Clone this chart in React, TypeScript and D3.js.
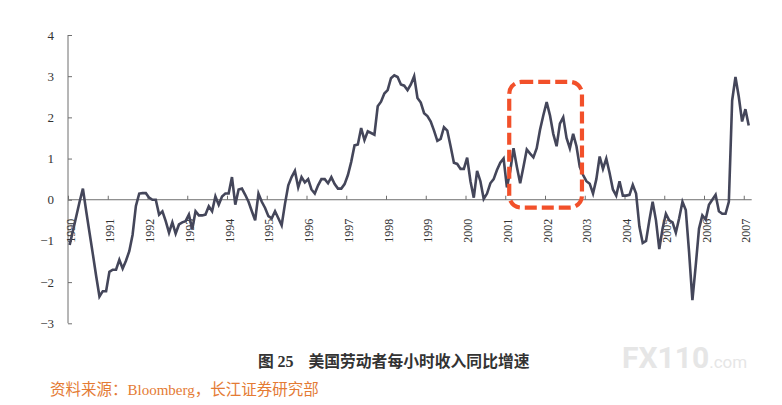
import React, { useEffect, useRef } from 'react';
import * as d3 from 'd3';

// monthly y/y growth of US average hourly earnings, Jan 1990 onwards (%)
const startYear = 1990;
const growth = [
  // 1990
  -1.1, -0.75, -0.4, -0.05, 0.27, -0.28, -0.8, -1.32, -1.85, -2.35, -2.22, -2.22,
  // 1991
  -1.75, -1.7, -1.7, -1.46, -1.67, -1.48, -1.25, -0.85, -0.15, 0.15, 0.16, 0.16,
  // 1992
  0.05, 0.0, 0.0, -0.36, -0.28, -0.52, -0.8, -0.55, -0.82, -0.6, -0.55, -0.52,
  // 1993
  -0.36, -0.72, -0.28, -0.38, -0.38, -0.36, -0.16, -0.28, 0.08, -0.12, 0.08, 0.15,
  // 1994
  0.15, 0.55, -0.12, 0.25, 0.27, 0.12, -0.05, -0.28, -0.5, 0.15, -0.05, -0.2,
  // 1995
  -0.4, -0.45, -0.28, -0.45, -0.62, -0.1, 0.35, 0.55, 0.7, 0.3, 0.55, 0.42,
  // 1996
  0.5, 0.25, 0.15, 0.35, 0.5, 0.5, 0.4, 0.55, 0.38, 0.27, 0.27, 0.38,
  // 1997
  0.6, 0.92, 1.32, 1.34, 1.74, 1.45, 1.66, 1.62, 1.58, 2.27, 2.38, 2.58,
  // 1998
  2.66, 2.95, 3.02, 2.98, 2.8, 2.77, 2.66, 2.8, 3.0, 2.47, 2.36, 2.1,
  // 1999
  2.03, 1.9, 1.68, 1.43, 1.48, 1.76, 1.68, 1.3, 0.9, 0.87, 0.75, 0.75,
  // 2000
  1.02, 0.45, 0.05, 0.7, 0.45, 0.02, 0.15, 0.4, 0.5, 0.72, 0.9, 1.0,
  // 2001
  0.3, 0.7, 1.25, 0.8, 0.4, 0.8, 1.22, 1.12, 1.03, 1.25, 1.7, 2.05,
  // 2002
  2.37, 2.05, 1.6, 1.3, 1.85, 2.0, 1.5, 1.25, 1.6, 1.3, 0.8, 0.6,
  // 2003
  0.45, 0.39, 0.15, 0.5, 1.05, 0.75, 1.0, 0.65, 0.25, 0.1, 0.45, 0.1,
  // 2004
  0.1, 0.12, 0.36, 0.15, -0.65, -1.05, -1.0, -0.5, -0.05, -0.5, -1.2, -0.7,
  // 2005
  -0.34, -0.5, -0.55, -0.8, -0.45, -0.05, -0.25, -1.28, -2.44, -1.6, -0.7, -0.38,
  // 2006
  -0.48, -0.12, 0.0, 0.12, -0.28, -0.34, -0.34, -0.05, 2.41, 2.98, 2.5, 1.9,
  // 2007
  2.2, 1.8
];

const yearTicks = d3.range(1990, 2008);
const valueTicks = [-3, -2, -1, 0, 1, 2, 3, 4];

// highlighted period (dashed box)
const highlightYears = [2001.1, 2002.93];
const highlightValues = [-0.19, 2.86];

const figLabel = '图 ';
const figNumber = '25';
const title = '美国劳动者每小时收入同比增速';
const sourceParts = ['资料来源：', 'Bloomberg', '，长江证券研究部'];

const WIDTH = 782;
const HEIGHT = 405;

export default function App() {
  const svgRef = useRef<SVGSVGElement>(null);

  useEffect(() => {
    if (!svgRef.current) return;
    const svg = d3.select(svgRef.current);
    svg.selectAll('*').remove();

    const x = d3.scaleLinear().domain([1990, 2007.2]).range([68, 751.7]);
    const y = d3.scaleLinear().domain([-3, 4]).range([323.3, 35]);

    const axisColor = '#6f6f6f';
    const lineColor = '#44465a';
    const serif = '"Liberation Serif", "Times New Roman", serif';

    const data = growth.map((v, i) => ({ t: startYear + (i + 0.5) / 12, v }));

    // y axis
    const yAxis = svg.append('g')
      .attr('transform', `translate(${x(1990)},0)`)
      .call(d3.axisRight(y).tickValues(valueTicks).tickSize(4).tickFormat(() => ''));
    yAxis.selectAll('line').attr('stroke', axisColor);
    yAxis.select('.domain').attr('stroke', axisColor).attr('d', `M0,${y(4)}V${y(-3)}`);

    svg.append('g')
      .selectAll('text')
      .data(valueTicks)
      .enter()
      .append('text')
      .attr('x', 54)
      .attr('y', d => y(d))
      .attr('dy', '0.35em')
      .attr('text-anchor', 'end')
      .attr('font-family', serif)
      .attr('font-size', '13px')
      .attr('fill', '#333')
      .text(d => d3.format('d')(d));

    // x axis along zero line
    const xAxis = svg.append('g')
      .attr('transform', `translate(0,${y(0)})`)
      .call(d3.axisTop(x).tickValues(yearTicks).tickSize(4).tickFormat(() => ''));
    xAxis.selectAll('line').attr('stroke', axisColor);
    xAxis.select('.domain').attr('stroke', axisColor).attr('d', `M${x(1990)},0H${x(2007.2)}`);

    svg.append('g')
      .selectAll('text')
      .data(yearTicks)
      .enter()
      .append('text')
      .attr('transform', d => `translate(${x(d) + 6.5},${y(0) + 19}) rotate(-90)`)
      .attr('text-anchor', 'end')
      .attr('font-family', serif)
      .attr('font-size', '12px')
      .attr('fill', '#333')
      .text(d => String(d));

    // series
    const line = d3.line<{ t: number; v: number }>()
      .x(d => x(d.t))
      .y(d => y(d.v));

    svg.append('path')
      .datum(data)
      .attr('fill', 'none')
      .attr('stroke', lineColor)
      .attr('stroke-width', 2.6)
      .attr('d', line);

    // dashed highlight box
    svg.append('rect')
      .attr('x', x(highlightYears[0]))
      .attr('y', y(highlightValues[1]))
      .attr('width', x(highlightYears[1]) - x(highlightYears[0]))
      .attr('height', y(highlightValues[0]) - y(highlightValues[1]))
      .attr('rx', 12)
      .attr('fill', 'none')
      .attr('stroke', '#f2502a')
      .attr('stroke-width', 4.2)
      .attr('stroke-dasharray', '12,5');

    // caption
    const cap = svg.append('text')
      .attr('x', 258)
      .attr('y', 367)
      .attr('font-family', '"Noto Sans CJK SC", sans-serif')
      .attr('font-weight', 'bold')
      .attr('font-size', '15.8px')
      .attr('fill', '#333');
    cap.append('tspan').text(figLabel);
    cap.append('tspan')
      .attr('font-family', serif)
      .attr('font-size', '16px')
      .text(figNumber);
    cap.append('tspan').attr('dx', 15).text(title);

    const src = svg.append('text')
      .attr('x', 50)
      .attr('y', 395)
      .attr('font-family', '"Noto Sans CJK SC", sans-serif')
      .attr('font-size', '15.5px')
      .attr('fill', '#e47b34');
    src.append('tspan').text(sourceParts[0]);
    src.append('tspan').attr('font-family', serif).attr('font-size', '15px').text(sourceParts[1]);
    src.append('tspan').text(sourceParts[2]);

    // watermark
    const wm = svg.append('text')
      .attr('x', 622)
      .attr('y', 368)
      .attr('font-family', 'Roboto, sans-serif')
      .attr('fill', '#e6e6e6');
    wm.append('tspan').attr('font-weight', 'bold').attr('font-size', '30px').text('FX110');
    wm.append('tspan').attr('font-size', '17px').text('.com');
  }, []);

  return (
    <svg
      ref={svgRef}
      width={WIDTH}
      height={HEIGHT}
      style={{ position: 'absolute', left: 0, top: 0, background: '#fff' }}
    />
  );
}
